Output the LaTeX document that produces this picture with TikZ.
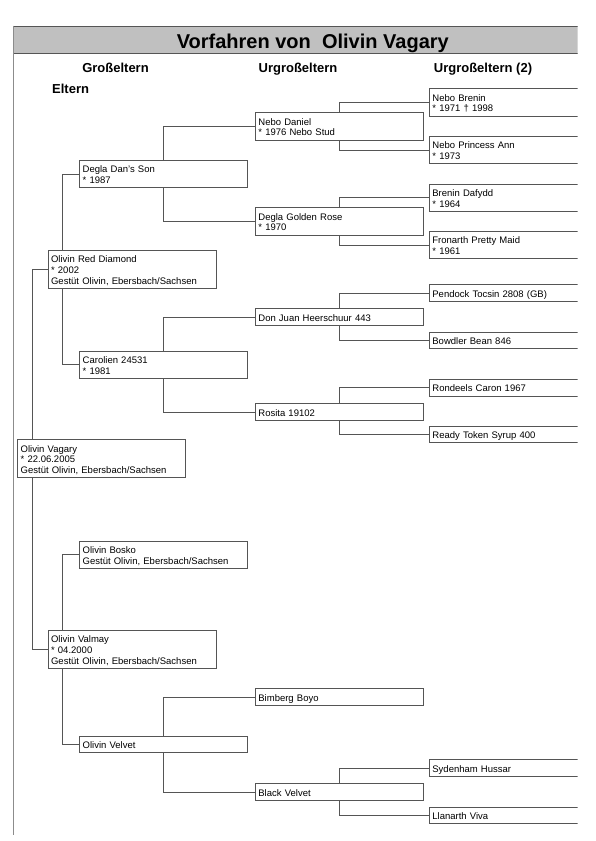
\documentclass[tikz,border=0pt]{standalone}
\usepackage{fontspec}
\setmainfont{Liberation Sans}
\usepackage{tikz}
\usetikzlibrary{positioning, calc}
\definecolor{boxline}{RGB}{85,85,85}
\definecolor{pageline}{RGB}{140,140,140}
\definecolor{titlefill}{RGB}{192,192,192}
\newcommand{\horsetop}{\rule{0pt}{10.7pt}}
\newcommand{\horsebottom}{\rule[-2.2pt]{0pt}{2.2pt}}

\begin{document}
\begin{tikzpicture}[
    x=1pt, y=-1pt,
    horse/.style={rectangle, draw=boxline, line width=0.8pt, anchor=north west,
        text width=162pt, align=left, inner xsep=3pt, inner ysep=1.85pt,
        font=\fontsize{9.5}{10.7}\selectfont,
        execute at begin node=\horsetop, execute at end node=\horsebottom},
    header/.style={font=\bfseries\fontsize{13}{15}\selectfont, inner sep=0pt},
    titlebar/.style={rectangle, draw=boxline, fill=titlefill, line width=1pt, anchor=north west,
        minimum width=598pt, minimum height=27.6pt, inner sep=0pt,
        text height=16.4pt, text depth=0pt, font=\bfseries\fontsize{20}{24}\selectfont},
    link/.style={draw=boxline, line width=0.8pt}
]
    \useasboundingbox (0,0) rectangle (595,841);

    \begin{scope}
    \clip (0,0) rectangle (577.5,841);

    % Title and column heads
    \node[titlebar] (title) at (13.3,25.7) {Vorfahren von\ \ Olivin Vagary};
    \draw[pageline, line width=1pt] (title.north west) -- (13.3,835);
    \node[header, anchor=base] (hgross) at (115.5,72.7) {Großeltern};
    \node[header, anchor=base] (hurgross) at (298,72.7) {Urgroßeltern};
    \node[header, anchor=base] (hurgross2) at (483,72.7) {Urgroßeltern (2)};
    \node[header, anchor=base west] (heltern) at (52,93.3) {Eltern};

    % Horse
    \node[horse] (ova) at (17.3,439.3) {Olivin Vagary\\{*} 22.06.2005\\Gestüt Olivin, Ebersbach/Sachsen};

    % Parents
    \node[horse] (ord) at (47.7,250) {Olivin Red Diamond\\{*} 2002\\Gestüt Olivin, Ebersbach/Sachsen};
    \node[horse] (ovm) at (47.7,630) {Olivin Valmay\\{*} 04.2000\\Gestüt Olivin, Ebersbach/Sachsen};

    % Grandparents
    \node[horse] (dds) at (79.3,160) {Degla Dan's Son\\{*} 1987};
    \node[horse] (car) at (79.3,350.7) {Carolien 24531\\{*} 1981};
    \node[horse] (obo) at (79.3,540.7) {Olivin Bosko\\Gestüt Olivin, Ebersbach/Sachsen};
    \node[horse] (ovv) at (79.3,735.7) {Olivin Velvet};

    % Great-grandparents
    \node[horse] (nd) at (255,112.3) {Nebo Daniel\\{*} 1976 Nebo Stud};
    \node[horse] (dgr) at (255,207.3) {Degla Golden Rose\\{*} 1970};
    \node[horse] (djh) at (255,308.3) {Don Juan Heerschuur 443};
    \node[horse] (ros) at (255,403.3) {Rosita 19102};
    \node[horse] (bbo) at (255,688.3) {Bimberg Boyo};
    \node[horse] (bv) at (255,783.3) {Black Velvet};

    % Great-great-grandparents
    \node[horse] (nb) at (429,88.3) {Nebo Brenin\\{*} 1971 † 1998};
    \node[horse] (npa) at (429,136) {Nebo Princess Ann\\{*} 1973};
    \node[horse] (bd) at (429,183.7) {Brenin Dafydd\\{*} 1964};
    \node[horse] (fpm) at (429,231) {Fronarth Pretty Maid\\{*} 1961};
    \node[horse] (pt) at (429,284.3) {Pendock Tocsin 2808 (GB)};
    \node[horse] (bb) at (429,331.7) {Bowdler Bean 846};
    \node[horse] (rc) at (429,379) {Rondeels Caron 1967};
    \node[horse] (rts) at (429,425.7) {Ready Token Syrup 400};
    \node[horse] (syh) at (429,759.3) {Sydenham Hussar};
    \node[horse] (llv) at (429,806.7) {Llanarth Viva};

    % Lines to the parents
    \draw[link] ([xshift=15pt]ova.north west) |- (ord.west);
    \draw[link] ([xshift=15pt]ova.south west) |- (ovm.west);
    \draw[link] ([xshift=15pt]ord.north west) |- (dds.west);
    \draw[link] ([xshift=15pt]ord.south west) |- (car.west);
    \draw[link] ([xshift=15pt]ovm.north west) |- (obo.west);
    \draw[link] ([xshift=15pt]ovm.south west) |- (ovv.west);

    \draw[link] (dds.north) |- (nd.west);
    \draw[link] (dds.south) |- (dgr.west);
    \draw[link] (car.north) |- (djh.west);
    \draw[link] (car.south) |- (ros.west);
    \draw[link] (ovv.north) |- (bbo.west);
    \draw[link] (ovv.south) |- (bv.west);

    \draw[link] (nd.north) |- (nb.west);
    \draw[link] (nd.south) |- (npa.west);
    \draw[link] (dgr.north) |- (bd.west);
    \draw[link] (dgr.south) |- (fpm.west);
    \draw[link] (djh.north) |- (pt.west);
    \draw[link] (djh.south) |- (bb.west);
    \draw[link] (ros.north) |- (rc.west);
    \draw[link] (ros.south) |- (rts.west);
    \draw[link] (bv.north) |- (syh.west);
    \draw[link] (bv.south) |- (llv.west);
    \end{scope}

\end{tikzpicture}
\end{document}
